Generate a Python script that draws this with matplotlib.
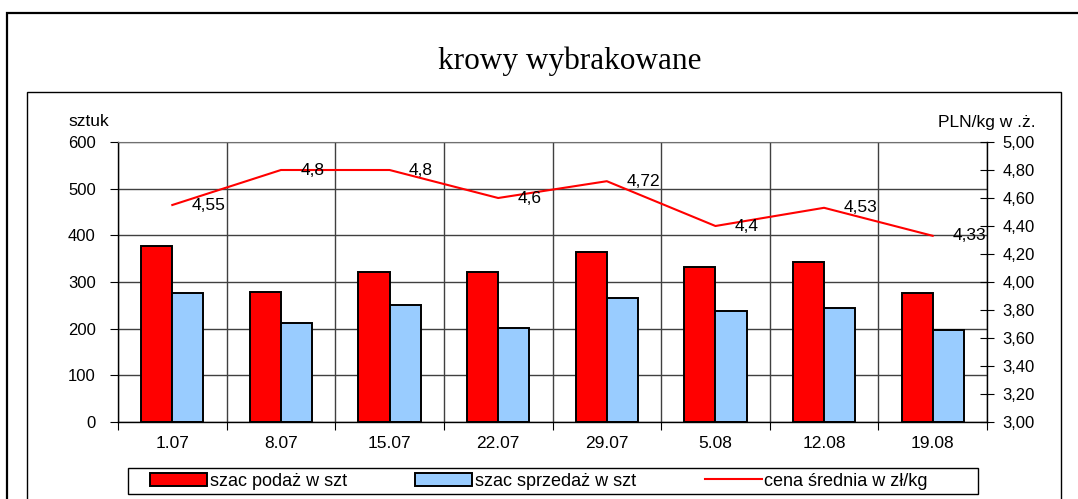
import numpy as np
import matplotlib
matplotlib.use("Agg")
import matplotlib.pyplot as plt
from matplotlib.patches import Rectangle
from matplotlib.lines import Line2D
from matplotlib.ticker import FixedLocator, FuncFormatter

categories = ["1.07", "8.07", "15.07", "22.07", "29.07", "5.08", "12.08", "19.08"]
podaz = [378, 279, 322, 322, 365, 333, 343, 277]
sprzedaz = [276, 212, 250, 201, 265, 237, 244, 197]
cena = [4.55, 4.8, 4.8, 4.6, 4.72, 4.4, 4.53, 4.33]
cena_labels = ["4,55", "4,8", "4,8", "4,6", "4,72", "4,4", "4,53", "4,33"]

title = "krowy wybrakowane"
left_label = "sztuk"
right_label = "PLN/kg w .ż."
legend_labels = ["szac podaż w szt", "szac sprzedaż w szt", "cena średnia w zł/kg"]

plt.rcParams['font.family'] = ['Liberation Sans', 'DejaVu Sans']

W, H = 1078, 499
fig = plt.figure(figsize=(W / 100, H / 100), dpi=100)

def fx(px):
    return px / W

def fy(py):
    return 1 - py / H

# frames
fig.patches.append(Rectangle((fx(7), -0.2), 1.2, fy(13) + 0.2, transform=fig.transFigure,
                             fill=False, edgecolor='black', linewidth=1.6, clip_on=False))
fig.patches.append(Rectangle((fx(27), -0.2), fx(1061) - fx(27), fy(92) + 0.2, transform=fig.transFigure,
                             fill=False, edgecolor='black', linewidth=1.0, clip_on=False))
# legend frame
fig.patches.append(Rectangle((fx(128), fy(494)), fx(978) - fx(128), fy(468) - fy(494),
                             transform=fig.transFigure, fill=False, edgecolor='black',
                             linewidth=1.0, clip_on=False))

ax = fig.add_axes([fx(118), fy(422), fx(987) - fx(118), fy(142) - fy(422)])
x = np.arange(len(categories))
bw = 0.286
ax.bar(x - bw / 2, podaz, width=bw, color='#FF0000', edgecolor='black', linewidth=1.4, zorder=3)
ax.bar(x + bw / 2, sprzedaz, width=bw, color='#99CCFF', edgecolor='black', linewidth=1.4, zorder=3)
ax.set_xlim(-0.5, len(categories) - 0.5)
ax.set_ylim(0, 600)
ax.set_yticks(np.arange(0, 601, 100))
ax.tick_params(axis='y', direction='out', length=6, labelsize=12, pad=10)
ax.xaxis.set_major_locator(FixedLocator(np.arange(-0.5, len(categories), 1)))
ax.xaxis.set_minor_locator(FixedLocator(x))
ax.xaxis.set_major_formatter(FuncFormatter(lambda v, p: ""))
ax.set_xticks(x, categories, minor=True)
ax.tick_params(axis='x', which='major', direction='out', length=6)
ax.tick_params(axis='x', which='minor', length=0, labelsize=12.5, pad=10)
ax.grid(True, which='major', color='#404040', linewidth=1.0)
ax.set_axisbelow(True)
for s in ['left', 'bottom']:
    ax.spines[s].set_color('black')
    ax.spines[s].set_linewidth(1.0)
ax.spines['top'].set_color('#707070')
ax.spines['right'].set_visible(False)

ax2 = ax.twinx()
ax2.plot(x, cena, color='#FF0000', linewidth=1.5, zorder=4)
ax2.set_ylim(3.0, 5.0)
ax2.set_yticks(np.arange(3.0, 5.001, 0.2))
ax2.yaxis.set_major_formatter(FuncFormatter(lambda v, p: f"{v:.2f}".replace('.', ',')))
ax2.tick_params(axis='y', direction='inout', length=10, labelsize=12, pad=6)
ax2.spines['right'].set_color('black')
ax2.spines['right'].set_linewidth(1.0)
for s in ['left', 'top', 'bottom']:
    ax2.spines[s].set_visible(False)
for xi, yi, lab in zip(x, cena, cena_labels):
    ax2.annotate(lab, (xi, yi), xytext=(14, 0), textcoords='offset points',
                 ha='left', va='center', fontsize=12.5, clip_on=False, zorder=5)

fig.text(fx(570), fy(61), title, ha='center', va='center',
         fontsize=22.5, family=['Liberation Serif', 'DejaVu Serif'])
fig.text(fx(89), fy(121), left_label, ha='center', va='center', fontsize=12.5)
fig.text(fx(1036), fy(122), right_label, ha='right', va='center', fontsize=12.5)

handles = [Rectangle((0, 0), 1, 1, facecolor='#FF0000', edgecolor='black', linewidth=1.4),
           Rectangle((0, 0), 1, 1, facecolor='#99CCFF', edgecolor='black', linewidth=1.4),
           Line2D([0], [0], color='#FF0000', linewidth=1.5)]
leg = fig.legend(handles, legend_labels, ncol=3, loc='center left',
                 bbox_to_anchor=(fx(150), fy(481)),
                 fontsize=13, frameon=False,
                 handlelength=3.15, handleheight=0.75,
                 handletextpad=0.15, columnspacing=3.8, borderpad=0, borderaxespad=0)

fig.savefig("out.png", dpi=100)
